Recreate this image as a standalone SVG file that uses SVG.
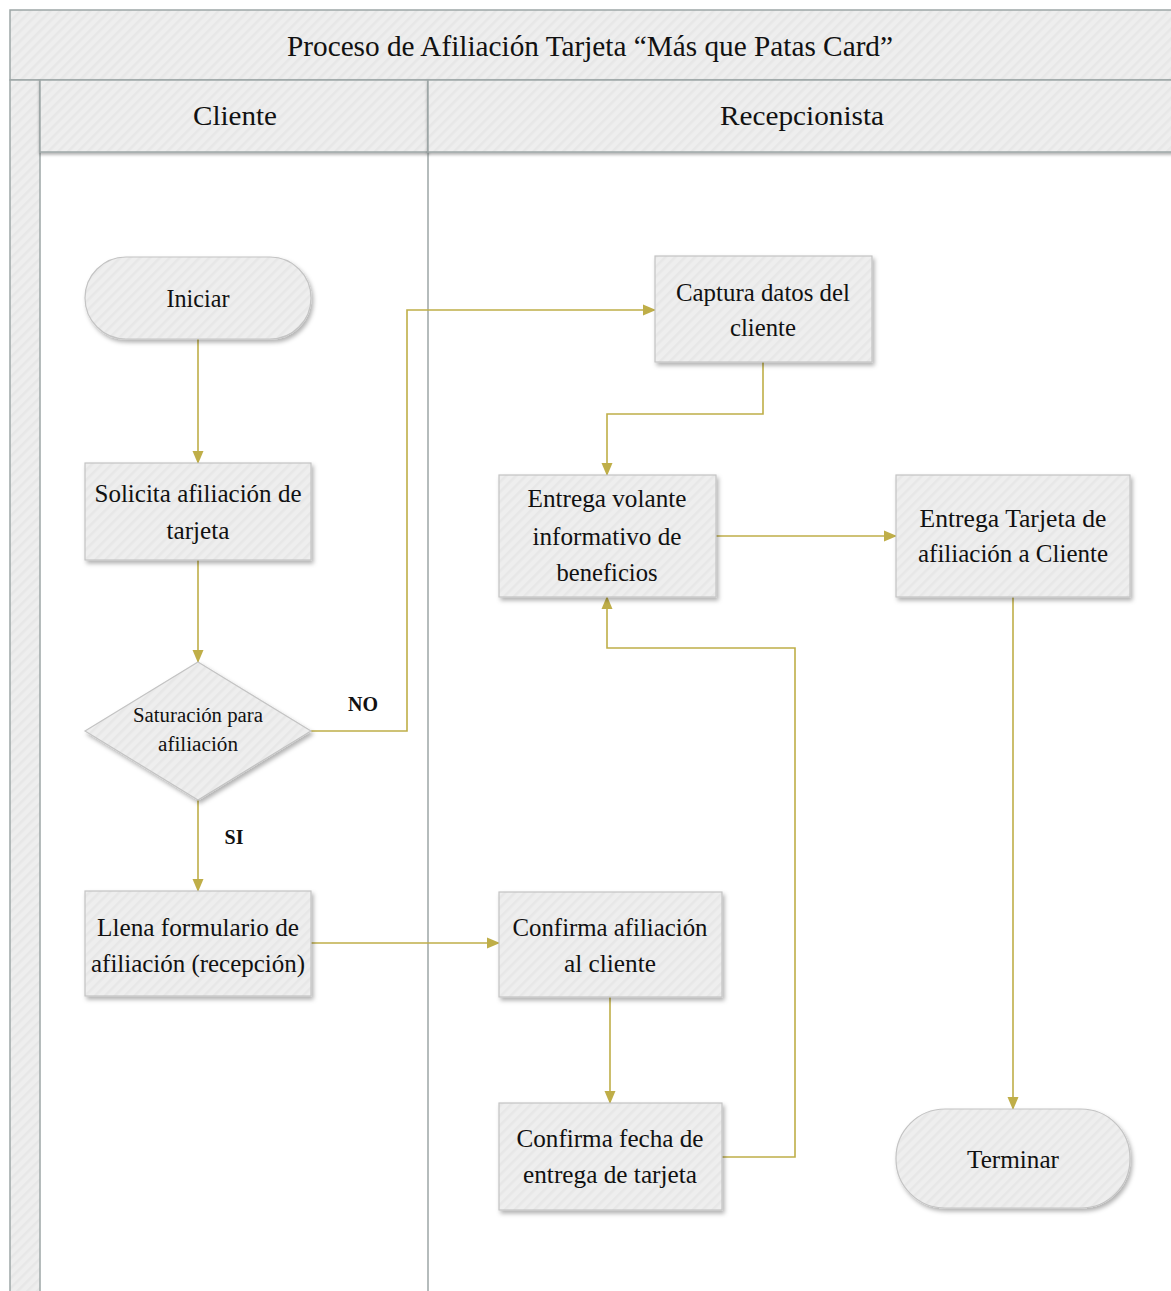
<svg xmlns="http://www.w3.org/2000/svg" width="1171" height="1291" viewBox="0 0 1171 1291">
<style>
.t{font-family:"Liberation Serif","Times New Roman",serif;fill:#111111;text-anchor:middle}
.n{font-size:26px}
.d{font-size:20px}
.b{font-size:20px;font-weight:bold}
.node{fill:url(#stripe);stroke:#c4c4c4;stroke-width:1.2;filter:url(#sh)}
.hdr{fill:url(#stripe);stroke:#9da6a6;stroke-width:1.5}
.lane{stroke:#9da6a6;stroke-width:1.5;fill:none}
.ca{stroke:#bfae48;stroke-width:1.6;fill:none;marker-end:url(#ah)}
</style>
<defs>
<pattern id="stripe" width="7" height="7" patternUnits="userSpaceOnUse" patternTransform="rotate(45)">
<rect width="7" height="7" fill="#eeeeee"/>
<rect width="2.5" height="7" fill="#e7e7e7"/>
</pattern>
<filter id="sh" x="-10%" y="-10%" width="130%" height="140%">
<feDropShadow dx="2" dy="3" stdDeviation="2" flood-color="#000" flood-opacity="0.3"/>
</filter>
<filter id="hsh" x="-5%" y="-5%" width="110%" height="130%">
<feDropShadow dx="0" dy="2" stdDeviation="1.5" flood-color="#000" flood-opacity="0.3"/>
</filter>
<marker id="ah" markerWidth="13" markerHeight="12" refX="12" refY="6" orient="auto" markerUnits="userSpaceOnUse">
<path d="M0,0.5 L13,6 L0,11.5 Z" fill="#bfae48"/>
</marker>
</defs>
<rect width="1171" height="1291" fill="#ffffff"/>

<g id="pool">
<rect x="10" y="10" width="1170" height="70" class="hdr"/>
<text class="t" x="590" y="56" font-size="30" textLength="606" lengthAdjust="spacingAndGlyphs">Proceso de Afiliación Tarjeta “Más que Patas Card”</text>
<rect x="10" y="80" width="30" height="1220" class="hdr"/>
</g>
<g id="lane-cliente">
<rect x="40" y="80" width="388" height="72" class="hdr" filter="url(#hsh)"/>
<text class="t" x="235" y="125" font-size="28" textLength="84" lengthAdjust="spacingAndGlyphs">Cliente</text>
<line x1="428" y1="152" x2="428" y2="1295" class="lane"/>
</g>
<g id="lane-recepcionista">
<rect x="428" y="80" width="752" height="72" class="hdr" filter="url(#hsh)"/>
<text class="t" x="802" y="125" font-size="28" textLength="164" lengthAdjust="spacingAndGlyphs">Recepcionista</text>
</g>

<g id="connectors">
<path class="ca" d="M198,339 V463"/>
<path class="ca" d="M198,560 V662"/>
<path class="ca" d="M311,731 H407 V310 H655"/>
<path class="ca" d="M198,800 V891"/>
<path class="ca" d="M311,943 H499"/>
<path class="ca" d="M763,362 V414 H607 V475"/>
<path class="ca" d="M716,536 H896"/>
<path class="ca" d="M610,997 V1103"/>
<path class="ca" d="M722,1157 H795 V648 H607 V597"/>
<path class="ca" d="M1013,597 V1109"/>
<text class="t b" x="363" y="711">NO</text>
<text class="t b" x="234" y="844">SI</text>
</g>

<g id="n-iniciar">
<rect x="85" y="257" width="226" height="82" rx="41" class="node"/>
<text class="t n" x="198" y="307" textLength="63" lengthAdjust="spacingAndGlyphs">Iniciar</text>
</g>
<g id="n-solicita">
<rect x="85" y="463" width="226" height="97" class="node"/>
<text class="t n" x="198" y="502" textLength="207" lengthAdjust="spacingAndGlyphs">Solicita afiliación de</text>
<text class="t n" x="198" y="539" textLength="63" lengthAdjust="spacingAndGlyphs">tarjeta</text>
</g>
<g id="n-saturacion">
<polygon points="198,662 311,731 198,800 85,731" class="node"/>
<text class="t d" x="198" y="722" textLength="130" lengthAdjust="spacingAndGlyphs">Saturación para</text>
<text class="t d" x="198" y="751" textLength="80" lengthAdjust="spacingAndGlyphs">afiliación</text>
</g>
<g id="n-llena">
<rect x="85" y="891" width="226" height="105" class="node"/>
<text class="t n" x="198" y="936" textLength="202" lengthAdjust="spacingAndGlyphs">Llena formulario de</text>
<text class="t n" x="198" y="972" textLength="214" lengthAdjust="spacingAndGlyphs">afiliación (recepción)</text>
</g>
<g id="n-captura">
<rect x="655" y="256" width="217" height="106" class="node"/>
<text class="t n" x="763" y="301" textLength="174" lengthAdjust="spacingAndGlyphs">Captura datos del</text>
<text class="t n" x="763" y="336" textLength="66" lengthAdjust="spacingAndGlyphs">cliente</text>
</g>
<g id="n-volante">
<rect x="499" y="475" width="217" height="122" class="node"/>
<text class="t n" x="607" y="507" textLength="159" lengthAdjust="spacingAndGlyphs">Entrega volante</text>
<text class="t n" x="607" y="545" textLength="149" lengthAdjust="spacingAndGlyphs">informativo de</text>
<text class="t n" x="607" y="581" textLength="101" lengthAdjust="spacingAndGlyphs">beneficios</text>
</g>
<g id="n-entrega-tarjeta">
<rect x="896" y="475" width="234" height="122" class="node"/>
<text class="t n" x="1013" y="527" textLength="187" lengthAdjust="spacingAndGlyphs">Entrega Tarjeta de</text>
<text class="t n" x="1013" y="562" textLength="190" lengthAdjust="spacingAndGlyphs">afiliación a Cliente</text>
</g>
<g id="n-confirma-afiliacion">
<rect x="499" y="892" width="223" height="105" class="node"/>
<text class="t n" x="610" y="936" textLength="195" lengthAdjust="spacingAndGlyphs">Confirma afiliación</text>
<text class="t n" x="610" y="972" textLength="92" lengthAdjust="spacingAndGlyphs">al cliente</text>
</g>
<g id="n-confirma-fecha">
<rect x="499" y="1103" width="223" height="107" class="node"/>
<text class="t n" x="610" y="1147" textLength="187" lengthAdjust="spacingAndGlyphs">Confirma fecha de</text>
<text class="t n" x="610" y="1183" textLength="174" lengthAdjust="spacingAndGlyphs">entrega de tarjeta</text>
</g>
<g id="n-terminar">
<rect x="896" y="1109" width="234" height="99" rx="49" class="node"/>
<text class="t n" x="1013" y="1168" textLength="92" lengthAdjust="spacingAndGlyphs">Terminar</text>
</g>
</svg>
